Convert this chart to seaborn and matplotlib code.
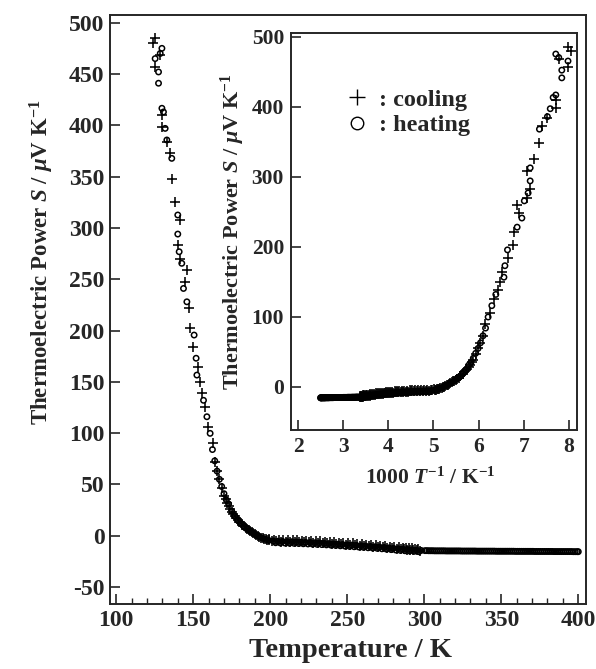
import matplotlib
matplotlib.use("Agg")
import matplotlib.pyplot as plt
import seaborn as sns
import pandas as pd
from matplotlib.ticker import MultipleLocator
from matplotlib.lines import Line2D

# ---------------- data ----------------
# cooling run (+), from room temperature downwards
cool_T = [297, 295, 293, 291, 289, 287, 285, 282, 279, 276, 273, 270, 267, 264, 261,
          258, 255, 252, 249, 246, 243, 240, 237, 234, 231, 228, 225, 222, 219, 216,
          213, 210, 207, 204, 201, 198, 196, 194, 192, 190, 188, 186, 184, 182, 180,
          178, 176, 174, 172, 170, 168.5, 167, 165.5, 164,
          163.1, 159.9, 157.8, 155.6, 154.5, 153.4, 150.2, 148.0, 147.6, 144.9, 145.9,
          141.5, 139.9, 141.5, 138.3, 136.1, 135.0, 132.9, 129.7, 129.7, 125.3, 128.6,
          124.2, 125.3]
cool_S = [-14.5, -14.3, -14.0, -13.8, -13.6, -13.3, -13.0, -12.6, -12.2, -11.8, -11.4,
          -11.0, -10.7, -10.3, -10.0, -9.6, -9.2, -8.9, -8.6, -8.3, -8.0, -7.7, -7.4,
          -7.1, -6.9, -6.7, -6.5, -6.3, -6.1, -6.0, -5.9, -5.8, -5.7, -5.5, -5.0, -4.0,
          -3.0, -1.8, -0.5, 1.5, 3.5, 5.5, 8.0, 10.5, 13.5, 17.0, 21.0, 26.0, 32.0, 39.0,
          47, 55, 63, 72,
          90, 106, 125.7, 138.8, 150, 164.7, 184, 202, 221.6, 247.5, 259,
          270, 283, 307.7, 325, 348, 372.7, 384, 398.6, 410, 457, 468.5,
          480, 484.8]
# further cooling points inside the dense band (upper edge of the band)
cool_band_T = [296, 294, 292, 290, 288, 286, 283.5, 280.5, 277.5, 274.5, 271.5, 268.5,
               265.5, 262.5, 259.5, 256.5, 253.5, 250.5, 247.5, 244.5, 241.5, 238.5,
               235.5, 232.5, 229.5, 226.5, 223.5, 220.5, 217.5, 214.5, 211.5, 208.5,
               205.5, 202.5, 199.5, 199, 197, 195, 193, 191, 189, 187, 185, 183, 181,
               179, 177, 175, 173, 171]
cool_band_S = [-12.8, -12.6, -12.4, -12.1, -11.9, -11.6, -11.3, -10.9, -10.5, -10.1,
               -9.7, -9.3, -9.0, -8.6, -8.3, -7.9, -7.5, -7.2, -6.9, -6.6, -6.3, -6.0,
               -5.7, -5.5, -5.3, -5.1, -4.9, -4.7, -4.5, -4.4, -4.3, -4.2, -4.1, -3.8,
               -3.0, -4.6, -3.6, -2.4, -1.2, 0.5, 2.5, 4.5, 6.8, 9.2, 12.0, 15.2, 19.0,
               23.5, 29.0, 35.5]

# heating run (o), from the lowest temperature up to 400 K
heat_T = [125.3, 127.5, 127.5, 128.6, 129.7, 129.7, 130.7, 131.8, 132.9, 136.1, 140.0,
          140.0, 140.9, 142.6, 143.7, 145.9, 150.6, 151.9, 152.4, 156.7, 158.9, 161.0,
          162.5, 164, 165.5, 167, 168.5, 170, 171.5, 173,
          175, 177, 179, 181, 183, 185, 187, 189, 191, 193, 195, 197, 199,
          202, 205, 208, 211, 214, 217, 220, 223, 226, 229, 232, 235, 238, 241, 244,
          247, 250, 253, 256, 259, 262, 265, 268, 271, 274, 277, 280, 283, 286, 289,
          292, 295, 298,
          300.5, 303, 305.5, 308, 310.5, 313, 315.5, 318, 320.5, 323,
          325.5, 328, 330.5, 333, 335.5, 338, 340.5, 343, 345.5, 348,
          350.5, 353, 355.5, 358, 360.5, 363, 365.5, 368, 370.5, 373,
          375.5, 378, 380.5, 383, 385.5, 388, 390.5, 393, 395.5, 398, 400]
heat_S = [465, 441, 452, 470, 475, 416.6, 413, 397, 385.7, 367.8, 312.6,
          294, 276.8, 265.5, 241, 228, 195.6, 173, 156.6, 132, 116, 99.8,
          84, 73, 63, 55, 48, 41, 35, 31,
          24, 19, 15, 12, 9, 6.5, 4.5, 2.5, 0.5, -1, -2.5, -3.5, -4.5,
          -5.0, -5.3, -5.5, -5.7, -5.8, -6.0, -6.2, -6.4, -6.6, -6.8, -7.0, -7.3, -7.6,
          -7.9, -8.2, -8.5, -8.8, -9.1, -9.4, -9.7, -10.0, -10.4, -10.7, -11.0, -11.4,
          -11.8, -12.2, -12.6, -13.0, -13.3, -13.7, -14.0, -14.3,
          -14.5, -14.6, -14.6, -14.7, -14.7, -14.7, -14.8, -14.8, -14.8, -14.8,
          -14.9, -14.9, -14.9, -14.9, -15.0, -15.0, -15.0, -15.0, -15.0, -15.1,
          -15.1, -15.1, -15.1, -15.1, -15.2, -15.2, -15.2, -15.2, -15.2, -15.3,
          -15.3, -15.3, -15.3, -15.3, -15.4, -15.4, -15.4, -15.4, -15.4, -15.5, -15.5]
# further heating points inside the dense band (lower edge and the 300-400 K tail)
heat_band_T = [203.5, 206.5, 209.5, 212.5, 215.5, 218.5, 221.5, 224.5, 227.5, 230.5,
               233.5, 236.5, 239.5, 242.5, 245.5, 248.5, 251.5, 254.5, 257.5, 260.5,
               263.5, 266.5, 269.5, 272.5, 275.5, 278.5, 281.5, 284.5, 287.5, 290.5,
               293.5, 296.5,
               301.75, 304.25, 306.75, 309.25, 311.75, 314.25, 316.75, 319.25, 321.75,
               324.25, 326.75, 329.25, 331.75, 334.25, 336.75, 339.25, 341.75, 344.25,
               346.75, 349.25, 351.75, 354.25, 356.75, 359.25, 361.75, 364.25, 366.75,
               369.25, 371.75, 374.25, 376.75, 379.25, 381.75, 384.25, 386.75, 389.25,
               391.75, 394.25, 396.75, 399.25]
heat_band_S = [-6.8, -7.0, -7.1, -7.3, -7.4, -7.6, -7.8, -8.0, -8.2, -8.4,
               -8.6, -8.9, -9.2, -9.5, -9.8, -10.1, -10.4, -10.7, -11.0, -11.3,
               -11.7, -12.0, -12.3, -12.7, -13.1, -13.5, -13.9, -14.3, -14.6, -14.9,
               -15.2, -15.5,
               -14.5, -14.6, -14.7, -14.7, -14.7, -14.8, -14.8, -14.8, -14.8,
               -14.9, -14.9, -14.9, -14.9, -15.0, -15.0, -15.0, -15.0, -15.0,
               -15.1, -15.1, -15.1, -15.1, -15.1, -15.2, -15.2, -15.2, -15.2,
               -15.2, -15.3, -15.3, -15.3, -15.3, -15.3, -15.4, -15.4, -15.4,
               -15.4, -15.4, -15.5, -15.5]

main_xticks = [100, 150, 200, 250, 300, 350, 400]
main_yticks = [-50, 0, 50, 100, 150, 200, 250, 300, 350, 400, 450, 500]
inset_xticks = [2, 3, 4, 5, 6, 7, 8]
inset_yticks = [0, 100, 200, 300, 400, 500]
legend_labels = [": cooling", ": heating"]

cool = pd.DataFrame({"T": cool_T + cool_band_T, "S": cool_S + cool_band_S})
heat = pd.DataFrame({"T": heat_T + heat_band_T, "S": heat_S + heat_band_S})
cool["invT"] = 1000.0 / cool["T"]
heat["invT"] = 1000.0 / heat["T"]

# ---------------- style ----------------
sns.set_theme(style="ticks")
plt.rcParams["font.family"] = ["Liberation Serif", "DejaVu Serif"]
plt.rcParams["font.weight"] = "bold"
plt.rcParams["mathtext.fontset"] = "custom"
plt.rcParams["mathtext.rm"] = "Liberation Serif:bold"
plt.rcParams["mathtext.it"] = "Liberation Serif:bold:italic"
plt.rcParams["mathtext.bf"] = "Liberation Serif:bold"
plt.rcParams["axes.unicode_minus"] = False
plt.rcParams["axes.linewidth"] = 1.4

W, H = 596, 669
fig = plt.figure(figsize=(W / 100, H / 100), dpi=100)
fig.patch.set_facecolor("white")

ax = fig.add_axes([110 / W, 1 - 604 / H, 476 / W, 589 / H])
axin = fig.add_axes([291 / W, 1 - 430 / H, 286 / W, 397 / H])


def draw(a, xcol):
    sns.scatterplot(data=heat, x=xcol, y="S", marker="o", s=15, color="black",
                    linewidth=1.1, ax=a, legend=False)
    a.collections[-1].set_facecolor("none")
    a.collections[-1].set_edgecolor("black")
    sns.scatterplot(data=cool, x=xcol, y="S", marker="+", s=62, color="black",
                    linewidth=1.15, ax=a, legend=False)


draw(ax, "T")
draw(axin, "invT")

# main axes
ax.set_xlim(96, 405)
ax.set_ylim(-66.5, 507.5)
ax.set_xticks(main_xticks)
ax.set_yticks(main_yticks)
ax.xaxis.set_minor_locator(MultipleLocator(10))
ax.tick_params(which="major", direction="in", length=7, width=1.2,
               labelsize=17, pad=4, top=False, right=False)
ax.tick_params(which="minor", direction="in", length=4, width=1.0,
               top=False, right=False)
for lab in ax.get_xticklabels() + ax.get_yticklabels():
    lab.set_fontweight("bold")
ax.set_xlabel("Temperature / K", fontsize=20.5, fontweight="bold")
ax.set_ylabel(r"Thermoelectric Power $S$ / $\mu$V K$^{-1}$", fontsize=16.5,
              fontweight="bold")
ax.xaxis.set_label_coords(0.505, -0.058)
ax.yaxis.set_label_coords(-0.113, 0.58)

# inset axes
axin.set_xlim(1.845, 8.18)
axin.set_ylim(-61.4, 505)
axin.set_xticks(inset_xticks)
axin.set_yticks(inset_yticks)
axin.tick_params(which="major", direction="in", length=7, width=1.2,
                 labelsize=15.5, pad=5, top=False, right=False)
for lab in axin.get_xticklabels() + axin.get_yticklabels():
    lab.set_fontweight("bold")
axin.set_xlabel(r"1000 $T^{-1}$ / K$^{-1}$", fontsize=15.5, fontweight="bold")
axin.set_ylabel(r"Thermoelectric Power $S$ / $\mu$V K$^{-1}$", fontsize=16,
                fontweight="bold")
axin.xaxis.set_label_coords(0.488, -0.095)
axin.yaxis.set_label_coords(-0.155, 0.5)

handles = [Line2D([], [], ls="", marker="+", markersize=12, mew=1.0, color="black"),
           Line2D([], [], ls="", marker="o", markersize=9, mew=1.0,
                  mfc="none", mec="black")]
axin.legend(handles, legend_labels, loc="upper left", bbox_to_anchor=(0.19, 0.86),
            frameon=False, prop={"size": 17.5, "weight": "bold"}, handlelength=1.0,
            handletextpad=0.4, labelspacing=0.15, borderpad=0, borderaxespad=0)

fig.savefig("out.png", dpi=100, facecolor="white")
